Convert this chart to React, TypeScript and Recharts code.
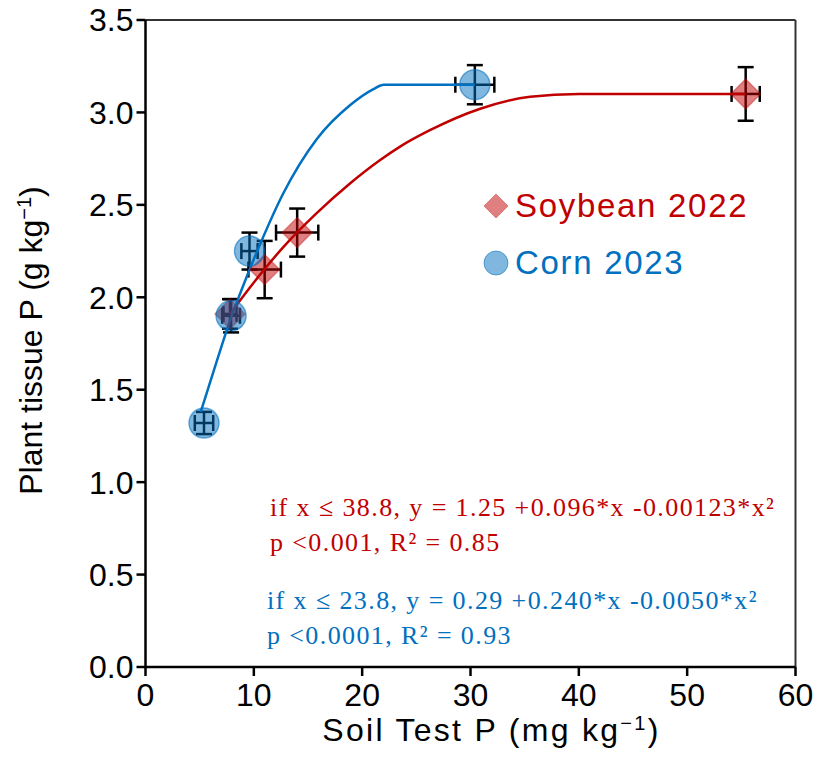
import React from 'react';
import {
  ComposedChart,
  Line,
  Scatter,
  XAxis,
  YAxis,
  ErrorBar,
  ReferenceLine,
} from 'recharts';

// Mean tissue P vs. soil test P, with standard errors in both directions
const soybeanPoints = [
  { x: 7.8, y: 1.91, ex: 0.6, ey: 0.08 },
  { x: 11.0, y: 2.15, ex: 1.5, ey: 0.155 },
  { x: 14.0, y: 2.35, ex: 1.95, ey: 0.13 },
  { x: 55.4, y: 3.1, ex: 1.3, ey: 0.145 },
];

const cornPoints = [
  { x: 5.4, y: 1.32, ex: 0.85, ey: 0.06 },
  { x: 7.9, y: 1.9, ex: 0.82, ey: 0.09 },
  { x: 9.6, y: 2.25, ex: 0.75, ey: 0.1 },
  { x: 30.4, y: 3.15, ex: 1.8, ey: 0.106 },
];

// Quadratic-plateau fitted curves
const soybeanCurve = [
  { x: 7.8, y: 1.91 },
  { x: 10.0, y: 2.08 },
  { x: 12.7, y: 2.27 },
  { x: 15.8, y: 2.455 },
  { x: 18.9, y: 2.617 },
  { x: 21.6, y: 2.74 },
  { x: 23.5, y: 2.815 },
  { x: 26.3, y: 2.905 },
  { x: 30.9, y: 3.02 },
  { x: 35.5, y: 3.085 },
  { x: 40.0, y: 3.1 },
  { x: 55.4, y: 3.1 },
];

const cornCurve = [
  { x: 5.1, y: 1.38 },
  { x: 6.5, y: 1.64 },
  { x: 7.9, y: 1.89 },
  { x: 8.7, y: 2.015 },
  { x: 10.6, y: 2.29 },
  { x: 12.7, y: 2.56 },
  { x: 15.8, y: 2.855 },
  { x: 18.9, y: 3.04 },
  { x: 21.0, y: 3.125 },
  { x: 22.0, y: 3.15 },
  { x: 30.4, y: 3.15 },
];

const xTicks = [0, 10, 20, 30, 40, 50, 60];
const yTicks = [0, 0.5, 1, 1.5, 2, 2.5, 3, 3.5];

const seriesNames = ['Soybean 2022', 'Corn 2023'];
const soybeanEquation = ['if x ≤ 38.8, y = 1.25 +0.096*x -0.00123*x²', 'p <0.001, R² = 0.85'];
const cornEquation = ['if x ≤ 23.8, y = 0.29 +0.240*x -0.0050*x²', 'p <0.0001, R² = 0.93'];

const RED = '#C00000';
const BLUE = '#0070C0';
const SANS = '"Liberation Sans", Arial, sans-serif';
const SERIF = '"Liberation Serif", "Times New Roman", serif';

const Diamond = (props: any) => {
  const { cx, cy } = props;
  const r = 15;
  return (
    <polygon
      points={`${cx},${cy - r} ${cx + r},${cy} ${cx},${cy + r} ${cx - r},${cy}`}
      fill={RED}
      fillOpacity={0.5}
      stroke={RED}
      strokeOpacity={0.35}
      strokeWidth={1.5}
    />
  );
};

const Dot = (props: any) => {
  const { cx, cy } = props;
  return (
    <circle
      cx={cx}
      cy={cy}
      r={15}
      fill={BLUE}
      fillOpacity={0.5}
      stroke={BLUE}
      strokeOpacity={0.55}
      strokeWidth={1.5}
    />
  );
};

const XTitle = (props: any) => {
  const vb = props.viewBox || {};
  const cx = vb.x + vb.width / 2 + 21;
  return (
    <text
      x={cx}
      y={vb.y + 74}
      textAnchor="middle"
      fontFamily={SANS}
      fontSize={32}
      letterSpacing={2.3}
      fill="#000"
    >
      <tspan>Soil Test P (mg kg</tspan>
      <tspan dy={-11} fontSize={20}>−1</tspan>
      <tspan dy={11}>)</tspan>
    </text>
  );
};

const YTitle = (props: any) => {
  const vb = props.viewBox || {};
  const cy = vb.y + vb.height / 2 - 3;
  const cx = 42;
  return (
    <text
      x={cx}
      y={cy}
      textAnchor="middle"
      transform={`rotate(-90, ${cx}, ${cy})`}
      fontFamily={SANS}
      fontSize={32}
      fill="#000"
    >
      <tspan>Plant tissue P (g kg</tspan>
      <tspan dy={-11} fontSize={20}>−1</tspan>
      <tspan dy={11}>)</tspan>
    </text>
  );
};

const LegendBox = () => (
  <div
    style={{
      position: 'absolute',
      left: 483,
      top: 177,
      fontFamily: SANS,
      fontSize: 33,
      lineHeight: '57px',
    }}
  >
    <div style={{ display: 'flex', alignItems: 'center', color: RED }}>
      <svg width={26} height={26} style={{ marginRight: 6 }}>
        <polygon points="13,1 25,13 13,25 1,13" fill={RED} fillOpacity={0.5} stroke={RED} strokeOpacity={0.35} />
      </svg>
      <span style={{ letterSpacing: 1.7 }}>{seriesNames[0]}</span>
    </div>
    <div style={{ display: 'flex', alignItems: 'center', color: BLUE }}>
      <svg width={26} height={26} style={{ marginRight: 6 }}>
        <circle cx={13} cy={13} r={12} fill={BLUE} fillOpacity={0.5} stroke={BLUE} strokeOpacity={0.55} />
      </svg>
      <span style={{ letterSpacing: 1.7 }}>{seriesNames[1]}</span>
    </div>
  </div>
);

const eqStyle: React.CSSProperties = {
  position: 'absolute',
  fontFamily: SERIF,
  fontSize: 26,
  letterSpacing: 1.4,
  whiteSpace: 'nowrap',
  lineHeight: '35px',
};

export default function App() {
  return (
    <div style={{ position: 'absolute', left: 0, top: 0, width: 819, height: 770, background: '#fff' }}>
      <ComposedChart
        width={819}
        height={770}
        margin={{ top: 20, right: 23.5, bottom: 0, left: 0 }}
      >
        <XAxis
          type="number"
          dataKey="x"
          domain={[0, 60]}
          ticks={xTicks}
          allowDataOverflow
          height={103}
          axisLine={{ stroke: '#000', strokeWidth: 2.5 }}
          tickLine={{ stroke: '#000', strokeWidth: 2.5 }}
          tickSize={9}
          tickMargin={7}
          tick={{ fill: '#000', fontSize: 32, fontFamily: SANS }}
          label={<XTitle />}
        />
        <YAxis
          type="number"
          dataKey="y"
          domain={[0, 3.5]}
          ticks={yTicks}
          allowDataOverflow
          width={145.5}
          axisLine={{ stroke: '#000', strokeWidth: 2.5 }}
          tickLine={{ stroke: '#000', strokeWidth: 2.5 }}
          tickSize={9}
          tickMargin={3}
          tickFormatter={(v: number) => v.toFixed(1)}
          tick={{ fill: '#000', fontSize: 32, fontFamily: SANS }}
          label={<YTitle />}
        />
        <ReferenceLine y={3.5} stroke="#333" strokeWidth={2} ifOverflow="visible" />
        <ReferenceLine x={60} stroke="#333" strokeWidth={2} ifOverflow="visible" />

        <Scatter name={seriesNames[0]} data={soybeanPoints} shape={<Diamond />} isAnimationActive={false}>
          <ErrorBar dataKey="ey" direction="y" width={8} stroke="#000" strokeWidth={2.5} />
          <ErrorBar dataKey="ex" direction="x" width={8} stroke="#000" strokeWidth={2.5} />
        </Scatter>
        <Scatter name={seriesNames[1]} data={cornPoints} shape={<Dot />} isAnimationActive={false}>
          <ErrorBar dataKey="ey" direction="y" width={8} stroke="#000" strokeWidth={2.5} />
          <ErrorBar dataKey="ex" direction="x" width={8} stroke="#000" strokeWidth={2.5} />
        </Scatter>

        <Line
          data={soybeanCurve}
          dataKey="y"
          type="monotone"
          stroke={RED}
          strokeWidth={2.5}
          dot={false}
          activeDot={false}
          legendType="none"
          isAnimationActive={false}
        />
        <Line
          data={cornCurve}
          dataKey="y"
          type="monotone"
          stroke={BLUE}
          strokeWidth={2.5}
          dot={false}
          activeDot={false}
          legendType="none"
          isAnimationActive={false}
        />
      </ComposedChart>

      <LegendBox />

      <div style={{ ...eqStyle, left: 270, top: 490, color: RED }}>
        <div>{soybeanEquation[0]}</div>
        <div>{soybeanEquation[1]}</div>
      </div>
      <div style={{ ...eqStyle, left: 267, top: 583, color: BLUE }}>
        <div>{cornEquation[0]}</div>
        <div>{cornEquation[1]}</div>
      </div>
    </div>
  );
}
